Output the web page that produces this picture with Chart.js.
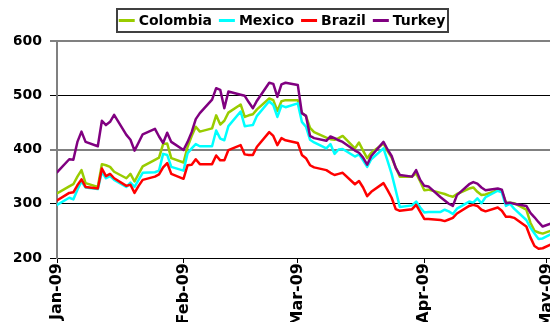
<!DOCTYPE html>
<html>
<head>
<meta charset="utf-8">
<script src="https://cdn.jsdelivr.net/npm/chart.js@4.4.1/dist/chart.umd.min.js"></script>
<style>
  html, body { margin: 0; padding: 0; background: #fff; }
  #wrap { position: relative; width: 550px; height: 322px; }
</style>
</head>
<body>
<div id="wrap"><canvas id="c" width="550" height="322"></canvas></div>
<script>
// Trading days (spread observations)
const dates = [
  '2009-01-01','2009-01-04','2009-01-05','2009-01-06','2009-01-07','2009-01-08',
  '2009-01-11','2009-01-12','2009-01-13','2009-01-14','2009-01-15',
  '2009-01-18','2009-01-19','2009-01-20','2009-01-21','2009-01-22',
  '2009-01-25','2009-01-26','2009-01-27','2009-01-28','2009-01-29',
  '2009-02-01','2009-02-02','2009-02-03','2009-02-04','2009-02-05',
  '2009-02-08','2009-02-09','2009-02-10','2009-02-11','2009-02-12',
  '2009-02-15','2009-02-16','2009-02-17','2009-02-18','2009-02-19',
  '2009-02-22','2009-02-23','2009-02-24','2009-02-25','2009-02-26',
  '2009-03-01','2009-03-02','2009-03-03','2009-03-04','2009-03-05',
  '2009-03-08','2009-03-09','2009-03-10','2009-03-11','2009-03-12',
  '2009-03-15','2009-03-16','2009-03-17','2009-03-18','2009-03-19',
  '2009-03-22','2009-03-23','2009-03-24','2009-03-25','2009-03-26',
  '2009-03-29','2009-03-30','2009-03-31','2009-04-01','2009-04-02',
  '2009-04-05','2009-04-06','2009-04-07','2009-04-08','2009-04-09',
  '2009-04-12','2009-04-13','2009-04-14','2009-04-15','2009-04-16',
  '2009-04-19','2009-04-20','2009-04-21','2009-04-22','2009-04-23',
  '2009-04-26','2009-04-27','2009-04-28','2009-04-29','2009-04-30',
  '2009-05-03'
];

const colombia = [
  319,332,336,350,362,338,
  331,373,371,368,359,
  347,355,341,355,369,
  381,385,410,411,384,
  376,405,425,442,433,
  439,463,446,453,468,
  483,460,463,465,474,
  494,491,471,489,491,
  491,467,462,440,432,
  422,419,418,421,425,
  402,413,398,384,394,
  411,397,385,367,350,
  350,356,341,325,326,
  320,318,315,313,318,
  328,330,322,316,317,
  325,323,302,302,301,
  289,265,250,247,245,
  253
];

const mexico = [
  298,311,308,326,341,330,
  327,359,347,351,344,
  331,339,331,344,357,
  358,361,392,390,368,
  361,393,402,410,406,
  406,435,420,417,443,
  470,443,444,445,462,
  489,482,460,481,478,
  485,451,442,418,413,
  402,410,392,400,401,
  387,391,380,368,382,
  402,379,355,325,294,
  297,304,293,284,285,
  285,289,286,281,291,
  304,302,310,301,312,
  324,321,296,300,291,
  270,256,245,235,236,
  248
];

const brazil = [
  306,320,321,334,345,331,
  328,365,351,355,347,
  333,335,320,333,344,
  350,354,367,375,355,
  346,371,372,382,373,
  373,389,380,380,399,
  408,391,390,390,405,
  432,425,408,421,417,
  412,390,384,371,367,
  362,357,353,355,357,
  336,342,330,314,322,
  338,325,311,290,287,
  290,298,285,272,272,
  270,268,271,274,282,
  296,298,296,289,286,
  293,287,276,276,274,
  258,238,222,217,218,
  228
];

const turkey = [
  358,382,381,414,433,414,
  406,453,445,451,464,
  427,418,398,413,428,
  438,424,412,431,414,
  399,414,432,456,467,
  492,513,510,476,507,
  501,499,487,476,490,
  523,521,497,520,523,
  519,467,462,425,421,
  416,424,421,417,414,
  398,394,385,372,388,
  414,400,388,366,353,
  350,362,344,333,332,
  312,306,300,296,316,
  336,340,337,330,325,
  328,326,301,302,300,
  296,283,275,266,258,
  266
];

const monthTickDates = ['2009-01-01','2009-02-01','2009-03-01','2009-04-01','2009-05-01'];
const monthLabels = ['Jan-09','Feb-09','Mar-09','Apr-09','May-09'];
const yTicks = [200, 300, 400, 500, 600];

// Dates become day offsets from 1 Jan 2009 on a linear axis
const DAY_MS = 86400000;
const ORIGIN = Date.UTC(2009, 0, 1);
function dayOffset(s) {
  const [y, m, d] = s.split('-').map(Number);
  return (Date.UTC(y, m - 1, d) - ORIGIN) / DAY_MS;
}
const xDays = dates.map(dayOffset);
const monthTicks = monthTickDates.map(dayOffset);
const toPoints = vals => vals.map((v, i) => ({ x: xDays[i], y: v }));

const FONT_FAMILY = "'DejaVu Sans', sans-serif";
Chart.defaults.font.family = FONT_FAMILY;
Chart.defaults.font.size = 14;
Chart.defaults.font.weight = 'bold';
Chart.defaults.color = '#000';

const series = [
  { label: 'Colombia', values: colombia, color: '#99CC00', order: 3 },
  { label: 'Mexico',   values: mexico,   color: '#00FFFF', order: 2 },
  { label: 'Brazil',   values: brazil,   color: '#FF0000', order: 1 },
  { label: 'Turkey',   values: turkey,   color: '#800080', order: 0 }
];

// One-row legend: short line sample followed by the series name, inside a frame
const framedLegend = {
  id: 'framedLegend',
  afterDraw(chart, args, opts) {
    const ctx = chart.ctx;
    const ds = chart.data.datasets;
    ctx.save();
    ctx.font = 'bold 14px ' + FONT_FAMILY;
    ctx.textBaseline = 'middle';
    ctx.textAlign = 'left';
    const lineLen = 16, gapText = 4, gapItem = 7, padX = 2, halfH = 11.5;
    const widths = ds.map(d => ctx.measureText(d.label).width);
    const total = widths.reduce((a, w) => a + lineLen + gapText + w, 0) + gapItem * (ds.length - 1);
    let x = opts.centerX - total / 2;
    const cy = opts.centerY;

    const fl = Math.round(x - padX);
    const fr = Math.round(x + total + padX + 1);
    const ft = Math.round(cy - halfH);
    const fb = Math.round(cy + halfH);
    ctx.strokeStyle = '#404040';
    ctx.lineWidth = 2;
    ctx.strokeRect(fl, ft, fr - fl, fb - ft);

    ds.forEach((d, i) => {
      ctx.beginPath();
      ctx.strokeStyle = d.borderColor;
      ctx.lineWidth = 3;
      ctx.moveTo(x, cy);
      ctx.lineTo(x + lineLen, cy);
      ctx.stroke();
      x += lineLen + gapText;
      ctx.fillStyle = '#000';
      ctx.fillText(d.label, x, cy + 0.5);
      x += widths[i] + gapItem;
    });
    ctx.restore();
  }
};

const softLine = v => v === 600 || v === 400;

new Chart(document.getElementById('c'), {
  type: 'line',
  data: {
    datasets: series.map(s => ({
      label: s.label,
      data: toPoints(s.values),
      borderColor: s.color,
      backgroundColor: s.color,
      borderWidth: 2.5,
      pointRadius: 0,
      pointHoverRadius: 0,
      tension: 0,
      fill: false,
      order: s.order,
      borderJoinStyle: 'round',
      borderCapStyle: 'round'
    }))
  },
  options: {
    responsive: false,
    animation: false,
    devicePixelRatio: 1,
    layout: { padding: { top: 41, left: 14, right: 0, bottom: 0 } },
    plugins: {
      legend: { display: false },
      tooltip: { enabled: false },
      framedLegend: { centerX: 282, centerY: 20.5 }
    },
    scales: {
      x: {
        type: 'linear',
        min: 0,
        max: 120.8,
        afterBuildTicks: s => { s.ticks = monthTicks.map(v => ({ value: v })); },
        afterFit: s => { s.height = 64; s.paddingLeft = 0; s.paddingRight = 0; },
        ticks: {
          autoSkip: false,
          minRotation: 90,
          maxRotation: 90,
          padding: 0,
          color: '#000',
          font: { size: 16, weight: 'bold' },
          callback: (v, i) => monthLabels[i]
        },
        grid: { drawOnChartArea: false, drawTicks: true, tickLength: 5, color: '#000', lineWidth: 1 },
        border: { display: true, color: '#000', width: 1 }
      },
      y: {
        min: 200,
        max: 600,
        afterBuildTicks: s => { s.ticks = yTicks.map(v => ({ value: v })); },
        afterFit: s => { s.width = 43; },
        ticks: {
          padding: 8,
          color: '#000',
          font: { size: 14, weight: 'bold' },
          callback: v => String(v)
        },
        grid: {
          color: c => (c.tick && softLine(c.tick.value)) ? '#808080' : '#000',
          lineWidth: c => (c.tick && softLine(c.tick.value)) ? 2 : 1,
          tickLength: 7
        },
        border: { display: true, color: '#808080', width: 2 }
      }
    }
  },
  plugins: [framedLegend]
});
</script>
</body>
</html>
